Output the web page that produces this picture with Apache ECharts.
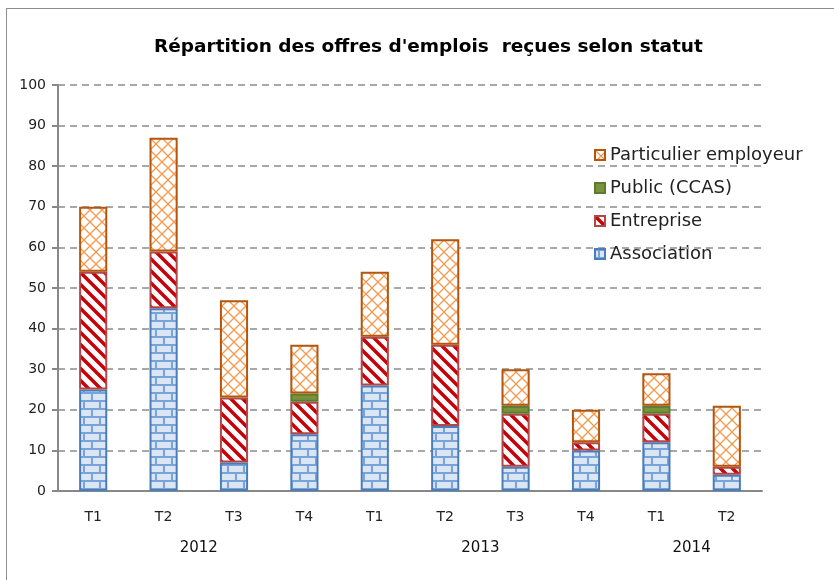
<!DOCTYPE html>
<html>
<head>
<meta charset="utf-8">
<script src="https://cdn.jsdelivr.net/npm/echarts@6/dist/echarts.min.js"></script>
<style>
  html, body { margin: 0; padding: 0; background: #fff; }
  #frame { position: absolute; left: 6px; top: 8px; width: 840px; height: 600px; border: 1.5px solid #8e8e8e; }
  #main { position: absolute; left: 0; top: 0; width: 834px; height: 580px; }
</style>
</head>
<body>
<div id="frame"></div>
<div id="main"></div>
<script>
// trimestres et années
var quarters = ['T1', 'T2', 'T3', 'T4', 'T1', 'T2', 'T3', 'T4', 'T1', 'T2'];
var years = ['2012', '2013', '2014'];
var yearSpan = [4, 4, 2];

// valeurs
var association = [25, 45, 7, 14, 26, 16, 6, 10, 12, 4];
var entreprise  = [29, 14, 16, 8, 12, 20, 13, 2, 7, 2];
var publicCcas  = [0, 0, 0, 2, 0, 0, 2, 0, 2, 0];
var particulier = [16, 28, 24, 12, 16, 26, 9, 8, 8, 15];

var FONT = 'DejaVu Sans';

function tile(w, h, draw) {
  var c = document.createElement('canvas');
  c.width = w; c.height = h;
  draw(c.getContext('2d'), w, h);
  return { image: c, repeat: 'repeat' };
}

// briques bleues
var brick = tile(16, 16, function (g, w, h) {
  g.fillStyle = '#dce6f2'; g.fillRect(0, 0, w, h);
  g.strokeStyle = '#78a4de'; g.lineWidth = 2;
  g.beginPath();
  g.moveTo(0, 1); g.lineTo(w, 1);
  g.moveTo(0, 9); g.lineTo(w, 9);
  g.moveTo(4, 1); g.lineTo(4, 9);
  g.moveTo(12, 9); g.lineTo(12, 16);
  g.stroke();
});

// rayures rouges
var stripes = tile(12, 12, function (g, w, h) {
  g.fillStyle = '#fff'; g.fillRect(0, 0, w, h);
  g.strokeStyle = '#c8000a'; g.lineWidth = 3.5;
  g.beginPath();
  for (var k = -2; k <= 2; k++) {
    g.moveTo(k * 12 - 2, -2); g.lineTo(k * 12 + 14, 14);
  }
  g.stroke();
});

// treillis orange
var lattice = tile(12, 12, function (g, w, h) {
  g.fillStyle = '#fff'; g.fillRect(0, 0, w, h);
  g.strokeStyle = '#f59a4c'; g.lineWidth = 1.3;
  g.beginPath();
  g.moveTo(0, 0); g.lineTo(12, 12);
  g.moveTo(12, 0); g.lineTo(0, 12);
  g.stroke();
});

function yearAt(v) {
  var start = 0;
  for (var i = 0; i < years.length; i++) {
    if (v === start + yearSpan[i] / 2) return years[i];
    start += yearSpan[i];
  }
  return '';
}

function barSeries(name, data, fill, border) {
  return {
    name: name, type: 'bar', stack: 'tot', barWidth: '40%',
    // pas de segment (ni bordure) quand la valeur est nulle
    data: data.map(function (v) { return v === 0 ? '-' : v; }),
    itemStyle: { color: fill, borderColor: border, borderWidth: 2 },
    emphasis: { disabled: true }
  };
}

var myChart = echarts.init(document.getElementById('main'));
myChart.setOption({
  animation: false,
  title: {
    text: "Répartition des offres d'emplois  reçues selon statut",
    left: 149, top: 33,
    textStyle: { fontFamily: FONT, fontSize: 18.5, fontWeight: 'bold', color: '#000' }
  },
  legend: {
    data: ['Particulier employeur', 'Public (CCAS)', 'Entreprise', 'Association'],
    orient: 'vertical', left: 589, top: 141,
    itemWidth: 10, itemHeight: 10, itemGap: 15,
    icon: 'rect',
    textStyle: { fontFamily: FONT, fontSize: 18, color: '#222' }
  },
  grid: { left: 58, right: 72, top: 85, bottom: 89 },
  xAxis: [{
    type: 'category', data: quarters,
    axisLine: { lineStyle: { color: '#888', width: 2 } },
    axisTick: { length: 6, lineStyle: { color: '#888', width: 2 } },
    axisLabel: { fontFamily: FONT, fontSize: 14, color: '#222', margin: 19 }
  }, {
    type: 'value', min: 0, max: quarters.length, interval: 1, position: 'bottom',
    axisLine: { show: false }, axisTick: { show: false }, splitLine: { show: false },
    axisLabel: { fontFamily: FONT, fontSize: 15, color: '#111', margin: 50, formatter: yearAt }
  }],
  yAxis: {
    type: 'value', min: 0, max: 100, interval: 10,
    axisLine: { show: true, lineStyle: { color: '#888', width: 2 } },
    axisTick: { show: true, length: 6, lineStyle: { color: '#888', width: 2 } },
    axisLabel: { fontFamily: FONT, fontSize: 14, color: '#222', margin: 12 },
    splitLine: { lineStyle: { color: '#8c8c8c', width: 1.5, type: [7, 5] } }
  },
  series: [
    barSeries('Association', association, brick, '#4a7ebb'),
    barSeries('Entreprise', entreprise, stripes, '#b04848'),
    barSeries('Public (CCAS)', publicCcas, '#77933c', '#5e7a2e'),
    barSeries('Particulier employeur', particulier, lattice, '#b5560e')
  ]
});
</script>
</body>
</html>
